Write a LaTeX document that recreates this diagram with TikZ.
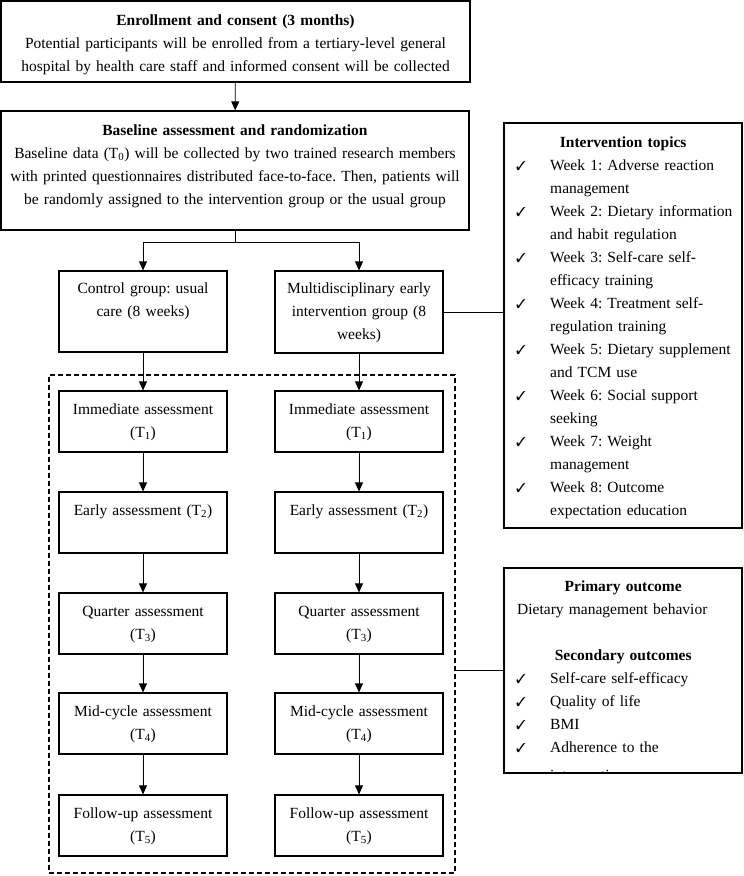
\documentclass[tikz,border=0pt]{standalone}
\usepackage{fontspec}
\setmainfont{Liberation Serif}
\usepackage{pifont}
\usetikzlibrary{arrows.meta,positioning}
\frenchspacing

\newcommand{\chk}{\makebox[33pt][l]{\hspace{-1pt}{\fontsize{13}{23}\selectfont\ding{51}}}}
\newcommand{\chkgap}{\hspace*{33pt}}

\begin{document}
\begin{tikzpicture}[x=1pt,y=-1pt,
    box/.style={draw, line width=1.2pt, inner sep=0pt},
    txt/.style={anchor=base, align=center, inner sep=0pt, font=\fontsize{15.5}{23}\selectfont},
    arr/.style={-{Triangle[length=9pt,width=8pt]}, line width=0.8pt},
    link/.style={line width=0.8pt}]
  \useasboundingbox (0,0) rectangle (744,876);

  % top boxes
  \node[box, minimum width=469pt, minimum height=81pt] (enroll) at (235.5,41.5) {};
  \node[txt, text width=465pt] (enroll-t) at (235.5,25) {\textbf{Enrollment and consent (3 months)}\\
    Potential participants will be enrolled from a tertiary-level general\\
    hospital by health care staff and informed consent will be collected};
  \node[box, minimum width=468pt, minimum height=119pt] (base) at (235,170.5) {};
  \node[txt, text width=464pt] (base-t) at (235,135.7) {\textbf{Baseline assessment and randomization}\\
    Baseline data (T\textsubscript{0}) will be collected by two trained research members\\
    with printed questionnaires distributed face-to-face. Then, patients will\\
    be randomly assigned to the intervention group or the usual group};
  \coordinate (split) at (235,242);

  % groups
  \node[box, minimum width=168pt, minimum height=81pt] (ctrl) at (143,311.5) {};
  \node[txt, text width=164pt] (ctrl-t) at (143,293.7) {Control group: usual\\care (8 weeks)};
  \node[box, minimum width=168pt, minimum height=82pt] (multi) at (359,312) {};
  \node[txt, text width=164pt] (multi-t) at (359,293.7) {Multidisciplinary early\\intervention group (8\\weeks)};

  % assessments
  \node[box, dashed, dash pattern=on 5pt off 3pt, minimum width=406pt, minimum height=498pt] (trial) at (252,624) {};
  \foreach \i/\y/\lbl in {1/391/{Immediate assessment\\(T\textsubscript{1})},
      2/492/{Early assessment (T\textsubscript{2})},
      3/593/{Quarter assessment\\(T\textsubscript{3})},
      4/693/{Mid-cycle assessment\\(T\textsubscript{4})},
      5/795/{Follow-up assessment\\(T\textsubscript{5})}} {
    \node[box, minimum width=168pt, minimum height=61pt] (c\i) at (143,\y+30.5) {};
    \node[txt, text width=164pt] (c\i-t) at (143,\y+23.7) {\lbl};
    \node[box, minimum width=168pt, minimum height=61pt] (m\i) at (359,\y+30.5) {};
    \node[txt, text width=164pt] (m\i-t) at (359,\y+23.7) {\lbl};
  }

  % side boxes
  \node[box, minimum width=238pt, minimum height=405pt] (topics) at (623,325.5) {};
  \node[txt, anchor=base west, align=left, text width=224pt] (topics-t) at (517,147.7) {%
    \makebox[212pt]{\textbf{Intervention topics}}\\
    \chk Week 1: Adverse reaction\\
    \chkgap management\\
    \chk Week 2: Dietary information\\
    \chkgap and habit regulation\\
    \chk Week 3: Self-care self-\\
    \chkgap efficacy training\\
    \chk Week 4: Treatment self-\\
    \chkgap regulation training\\
    \chk Week 5: Dietary supplement\\
    \chkgap and TCM use\\
    \chk Week 6: Social support\\
    \chkgap seeking\\
    \chk Week 7: Weight\\
    \chkgap management\\
    \chk Week 8: Outcome\\
    \chkgap expectation education};
  \node[box, minimum width=238pt, minimum height=205pt] (outc) at (623,670.5) {};
  \begin{scope}
    \clip (outc.south west) rectangle (outc.north east);
    \node[txt, anchor=base west, align=left, text width=224pt] (outc-t) at (517,591.7) {%
      \makebox[212pt]{\textbf{Primary outcome}}\\
      Dietary management behavior\\
      \mbox{}\\
      \makebox[212pt]{\textbf{Secondary outcomes}}\\
      \chk Self-care self-efficacy\\
      \chk Quality of life\\
      \chk BMI\\
      \chk Adherence to the\\[5pt]
      \chkgap intervention};
  \end{scope}

  % connectors
  \begin{scope}[arr]
    \draw (enroll) -- (base);
    \draw (split) -| (ctrl);
    \draw (split) -| (multi);
    \foreach \a/\b in {ctrl/c1,c1/c2,c2/c3,c3/c4,c4/c5,multi/m1,m1/m2,m2/m3,m3/m4,m4/m5}
      \draw (\a) -- (\b);
  \end{scope}
  \draw[link] (base) -- (split);
  \draw[link] (multi.east) -- (multi.east -| topics.west);
  \draw[link] (outc.west -| trial.east) -- (outc.west);
\end{tikzpicture}
\end{document}
